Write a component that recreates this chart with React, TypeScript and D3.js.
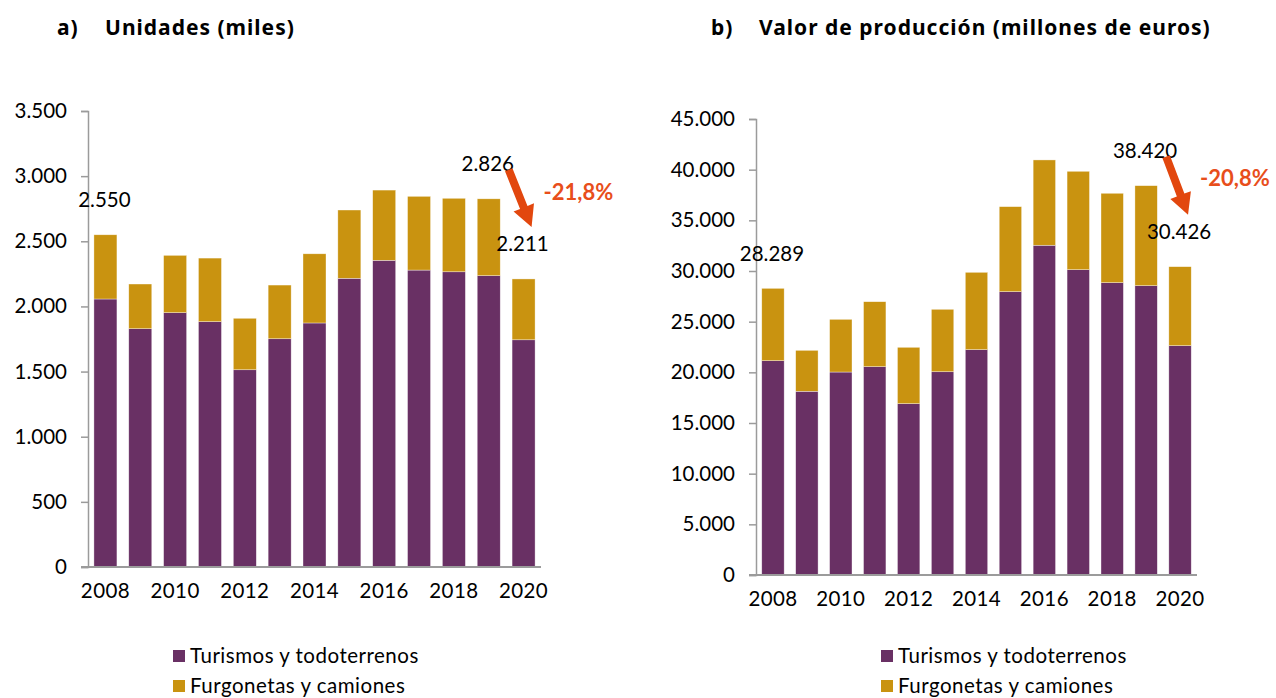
import { useEffect, useRef } from "react";
import * as d3 from "d3";

const years = ["2008", "2009", "2010", "2011", "2012", "2013", "2014", "2015", "2016", "2017", "2018", "2019", "2020"];

// a) Unidades (miles)
const unidadesTurismos = [2057, 1829, 1952, 1883, 1514, 1752, 1873, 2216, 2354, 2279, 2266, 2236, 1744];
const unidadesFurgonetas = [493, 343, 440, 488, 395, 412, 531, 524, 539, 566, 564, 590, 467];
const unidadesTicks = [0, 500, 1000, 1500, 2000, 2500, 3000, 3500];

// b) Valor de producción (millones de euros)
const valorTurismos = [21150, 18130, 20030, 20560, 16910, 20060, 22240, 27960, 32540, 30130, 28850, 28550, 22630];
const valorFurgonetas = [7139, 4040, 5200, 6410, 5560, 6160, 7630, 8390, 8420, 9710, 8820, 9870, 7796];
const valorTicks = [0, 5000, 10000, 15000, 20000, 25000, 30000, 35000, 40000, 45000];

const yearLabels = ["2008", "2010", "2012", "2014", "2016", "2018", "2020"];
const seriesNames = ["Turismos y todoterrenos", "Furgonetas y camiones"];
const labelledYears = ["2008", "2019", "2020"];

const PURPLE = "#693064";
const GOLD = "#C99310";
const ORANGE = "#E2470E";
const AXIS = "#9b9b9b";
const FONT = "Lato, 'Open Sans', sans-serif";
const TITLE_FONT = "'Noto Sans', 'Open Sans', sans-serif";
const NUM_SIZE = "20.5px";

const es = d3.formatLocale({ decimal: ",", thousands: ".", grouping: [3], currency: ["", " €"], minus: "-" });
const fmtInt = es.format(",d");
const fmtPct = es.format(".1f");

interface PanelProps {
    letter: string;
    title: string;
    titleX: number;
    turismos: number[];
    furgonetas: number[];
    ticks: number[];
    left: number;
    right: number;
    top: number;
    bottom: number;
    legendX: number;
}

const Panel = (p: PanelProps) => {
    const gRef = useRef<SVGGElement>(null);

    useEffect(() => {
        if (!gRef.current) return;
        const g = d3.select(gRef.current);
        g.selectAll("*").remove();

        const rows = years.map((year, i) => ({ year, turismos: p.turismos[i], furgonetas: p.furgonetas[i] }));
        const x = d3.scaleBand().domain(years).range([p.left, p.right]).paddingInner(0.34).paddingOuter(0.17);
        const yMax = p.ticks[p.ticks.length - 1];
        const y = d3.scaleLinear().domain([0, yMax]).range([p.bottom, p.top]);

        // title
        const t = g.append("text")
            .attr("y", 35)
            .style("font-family", TITLE_FONT)
            .style("font-weight", "700")
            .style("font-size", "21px")
            .style("letter-spacing", "1px")
            .attr("fill", "#000");
        t.append("tspan").attr("x", p.titleX).text(p.letter);
        t.append("tspan").attr("x", p.titleX + 48).text(p.title);

        // stacked bars
        const stacked = d3.stack<any>().keys(["turismos", "furgonetas"])(rows);
        const colors = [PURPLE, GOLD];
        g.append("g")
            .selectAll("g")
            .data(stacked)
            .join("g")
            .attr("fill", (_, i) => colors[i])
            .selectAll("rect")
            .data((d) => d)
            .join("rect")
            .attr("x", (d: any) => x(d.data.year)!)
            .attr("width", x.bandwidth())
            .attr("y", (d) => y(d[1]))
            .attr("height", (d) => y(d[0]) - y(d[1]))
            .attr("stroke", "#ffffff")
            .attr("stroke-opacity", 0.6)
            .attr("stroke-width", 0.6);

        // y axis
        const yAxis = g.append("g")
            .attr("transform", `translate(${p.left},0)`)
            .call(d3.axisLeft(y).tickValues(p.ticks).tickFormat((v) => fmtInt(v as number)).tickSize(7).tickSizeOuter(7).tickPadding(14));
        yAxis.select(".domain").attr("stroke", AXIS).attr("stroke-width", 1.5);
        yAxis.selectAll(".tick line").attr("stroke", AXIS).attr("stroke-width", 1.5);
        yAxis.selectAll("text")
            .style("font-family", FONT)
            .style("font-size", NUM_SIZE)
            .attr("fill", "#000");

        // x axis
        const xAxis = g.append("g")
            .attr("transform", `translate(0,${p.bottom})`)
            .call(d3.axisBottom(x).tickValues(yearLabels).tickSize(0).tickSizeOuter(0).tickPadding(16));
        xAxis.select(".domain").attr("d", `M${p.left - 7},0H${p.right}`).attr("stroke", AXIS).attr("stroke-width", 1.8);
        xAxis.selectAll("text")
            .style("font-family", FONT)
            .style("font-size", NUM_SIZE)
            .style("letter-spacing", "0.4px")
            .attr("fill", "#000");

        // total labels
        const total = (r: any) => r.turismos + r.furgonetas;
        const labelled = rows.filter((r) => labelledYears.includes(r.year));
        g.append("g")
            .selectAll("text")
            .data(labelled)
            .join("text")
            .attr("x", (d) => x(d.year)! + x.bandwidth() / 2 - 1)
            .attr("y", (d) => y(total(d)) - 35)
            .attr("dy", "0.35em")
            .attr("text-anchor", "middle")
            .style("font-family", FONT)
            .style("font-size", NUM_SIZE)
            .attr("fill", "#000")
            .text((d) => fmtInt(total(d)));

        // arrow 2019 -> 2020
        const prev = rows[rows.length - 2];
        const last = rows[rows.length - 1];
        const x0 = x(prev.year)! + x.bandwidth() / 2 + 20;
        const y0 = y(total(prev)) - 35 + 6;
        const x1 = x(last.year)! + x.bandwidth() / 2 + 8;
        const y1 = y(total(last)) - 35 - 17;
        const ang = Math.atan2(y1 - y0, x1 - x0);
        const len = Math.hypot(x1 - x0, y1 - y0);
        const headL = 21, headW = 11, shaftW = 4;
        const arrowPts: [number, number][] = [
            [0, -shaftW], [len - headL, -shaftW], [len - headL, -headW], [len, 0],
            [len - headL, headW], [len - headL, shaftW], [0, shaftW],
        ];
        g.append("path")
            .attr("d", d3.line()(arrowPts) + "Z")
            .attr("fill", ORANGE)
            .attr("transform", `translate(${x0},${y0}) rotate(${(ang * 180) / Math.PI})`);

        const pct = ((total(last) - total(prev)) / total(prev)) * 100;
        g.append("text")
            .attr("x", x(last.year)! + x.bandwidth() / 2 + 20)
            .attr("y", y(total(prev)) - 35 + 28)
            .attr("dy", "0.35em")
            .style("font-family", FONT)
            .style("font-weight", "700")
            .style("font-size", "22px")
            .attr("fill", "#E84E1B")
            .text(fmtPct(pct) + "%");

        // legend
        const legend = g.append("g").attr("transform", `translate(${p.legendX},656)`);
        seriesNames.forEach((name, i) => {
            const row = legend.append("g").attr("transform", `translate(0,${i * 30})`);
            row.append("rect").attr("x", 0).attr("y", -6).attr("width", 12).attr("height", 12).attr("fill", colors[i]);
            row.append("text")
                .attr("x", 17)
                .attr("y", 0)
                .attr("dy", "0.35em")
                .style("font-family", FONT)
                .style("font-size", NUM_SIZE)
                .style("letter-spacing", "0.5px")
                .attr("fill", "#000")
                .text(name);
        });
    }, [p]);

    return <g ref={gRef}></g>;
};

export default function App() {
    return (
        <svg
            width={1276}
            height={698}
            style={{ position: "absolute", left: 0, top: 0, background: "#fff" }}
        >
            <rect width={1276} height={698} fill="#fff" />
            <Panel
                letter="a)"
                title="Unidades (miles)"
                titleX={57}
                turismos={unidadesTurismos}
                furgonetas={unidadesFurgonetas}
                ticks={unidadesTicks}
                left={88}
                right={541}
                top={111}
                bottom={567}
                legendX={173}
            />
            <Panel
                letter="b)"
                title="Valor de producción (millones de euros)"
                titleX={711}
                turismos={valorTurismos}
                furgonetas={valorFurgonetas}
                ticks={valorTicks}
                left={756}
                right={1197}
                top={119}
                bottom={575}
                legendX={881}
            />
        </svg>
    );
}
